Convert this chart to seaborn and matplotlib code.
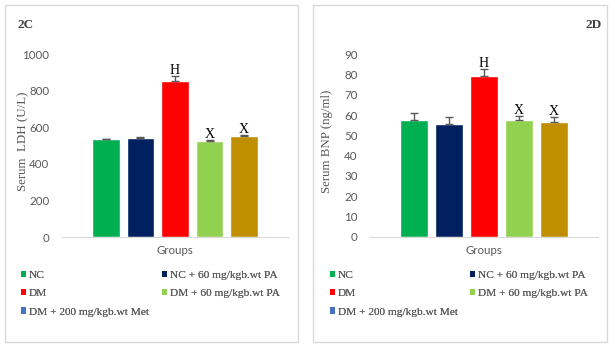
import matplotlib
matplotlib.use("Agg")
import matplotlib.pyplot as plt
from matplotlib.patches import Rectangle, Patch
import seaborn as sns
import pandas as pd

# Treatment groups (legend order) and the single category on the x axis
groups = ["NC", "NC + 60 mg/kgb.wt PA", "DM", "DM + 60 mg/kgb.wt PA",
          "DM + 200 mg/kgb.wt Met"]
category = "Groups"

# Serum LDH (U/L): means and upper error
ldh_mean = [536, 542, 855, 526, 553]
ldh_err = [3, 4, 26, 3, 4]

# Serum BNP (ng/ml): means and upper error
bnp_mean = [57.6, 55.6, 79.5, 57.6, 56.6]
bnp_err = [3.3, 3.3, 3.1, 2.1, 2.3]

# Significance letters above bars
sig_labels = ["", "", "H", "X", "X"]

bar_colors = ["#00B050", "#002060", "#FF0000", "#92D050", "#BF8F00"]
legend_colors = ["#00B050", "#002060", "#FF0000", "#92D050", "#4472C4"]

W, H = 615, 347
sns.set_theme(style="white")
plt.rcParams["font.family"] = ["Lato", "DejaVu Sans"]
SERIF = ["Liberation Serif", "DejaVu Serif"]
GREY = "#595959"

fig = plt.figure(figsize=(W / 100, H / 100), dpi=100)
fig.patch.set_facecolor("white")


def fx(x):
    return x / W


def fy(y):
    return 1 - y / H


def panel(frame, axbox, means, errs, ymax, ystep, ylabel, tag, tag_x, tag_ha,
          label_x, legend_cols):
    x0, y0, x1, y1 = frame
    fig.add_artist(Rectangle((fx(x0), fy(y1)), fx(x1) - fx(x0), fy(y0) - fy(y1),
                             transform=fig.transFigure, fill=False,
                             edgecolor="#D9D9D9", lw=1))
    left, top, right, bottom = axbox
    ax = fig.add_axes([fx(left), fy(bottom), fx(right) - fx(left),
                       fy(top) - fy(bottom)])
    df = pd.DataFrame({"category": [category] * len(groups),
                       "group": groups, "value": means})
    sns.barplot(data=df, x="category", y="value", hue="group",
                hue_order=groups, palette=bar_colors, width=0.765, gap=0.2,
                saturation=1, errorbar=None, legend=False, ax=ax)
    xs = [p.get_x() + p.get_width() / 2 for p in ax.patches]
    ax.errorbar(xs, means, yerr=[[0] * len(errs), errs], fmt="none",
                ecolor=GREY, elinewidth=1, capsize=2.6, capthick=1)
    for x, m, e, lab in zip(xs, means, errs, sig_labels):
        if lab:
            ax.annotate(lab, (x, m + e), xytext=(0, 1.5),
                        textcoords="offset points", ha="center", va="baseline",
                        family=SERIF, fontsize=10, color="black")
    ax.set_xlim(-0.5, 0.5)
    ax.set_ylim(0, ymax)
    ax.set_yticks(list(range(0, ymax + 1, ystep)))
    for s in ("left", "top", "right"):
        ax.spines[s].set_visible(False)
    ax.spines["bottom"].set_color("#D9D9D9")
    ax.spines["bottom"].set_linewidth(0.8)
    ax.tick_params(axis="y", length=0, pad=9, labelsize=8.3, labelcolor=GREY)
    ax.tick_params(axis="x", length=0, pad=6, labelsize=8.3, labelcolor=GREY)
    ax.set_xlabel("")
    ax.set_ylabel(ylabel, family=SERIF, fontsize=9.3, color=GREY)
    ax.yaxis.set_label_coords(fx(label_x), fy(141), transform=fig.transFigure)
    ax.set_facecolor("white")

    fig.text(fx(tag_x), fy(25), tag, ha=tag_ha, va="center", family=SERIF,
             fontsize=9.5, fontweight="bold", color="#404040")

    handles = [Patch(facecolor=c, edgecolor="none") for c in legend_colors]
    columns = [[0, 2, 4], [1, 3]]
    for lx, idx in zip(legend_cols, columns):
        leg = fig.legend([handles[i] for i in idx], [groups[i] for i in idx],
                         loc="upper left", bbox_to_anchor=(fx(lx), fy(271)),
                         bbox_transform=fig.transFigure, frameon=False,
                         borderpad=0, borderaxespad=0, handlelength=0.45,
                         handleheight=0.45, handletextpad=0.25,
                         labelspacing=0.8, labelcolor=GREY,
                         prop={"family": SERIF, "size": 8.2})
        fig.add_artist(leg)
    return ax


panel((5, 5, 298, 342), (62, 54.3, 288, 237), ldh_mean, ldh_err, 1000, 200,
      "Serum  LDH (U/L)", "2C", 17, "left", 29, (21, 161.7))
panel((313, 5, 607, 342), (370, 54.3, 598, 236.7), bnp_mean, bnp_err, 90, 10,
      "Serum BNP (ng/ml)", "2D", 602, "right", 333, (330, 470))

fig.savefig("out.png", dpi=100, facecolor="white")
